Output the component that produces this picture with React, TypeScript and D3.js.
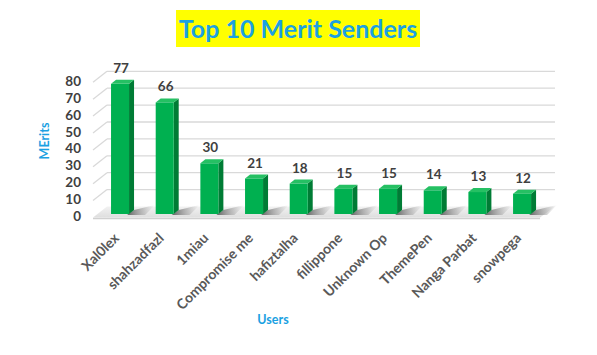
import React from "react";
import * as d3 from "d3";

const users = ["Xal0lex", "shahzadfazl", "1miau", "Compromise me", "hafiztalha", "fillippone", "Unknown Op", "ThemePen", "Nanga Parbat", "snowpega"];
const merits = [77, 66, 30, 21, 18, 15, 15, 14, 13, 12];
const yTicks = [0, 10, 20, 30, 40, 50, 60, 70, 80];

const W = 597, H = 355;
const DX = 14, DY = -11; // wall depth
const BDX = 5, BDY = -4; // bar depth
const FONT = "Lato, 'Open Sans', sans-serif";

export default function App() {
  const x = d3.scaleBand<string>().domain(users).range([97.7, 544.4]).paddingInner(0.597).paddingOuter(0.2985);
  const y = d3.scaleLinear().domain([0, 80]).range([216, 80.8]);
  const base = 214;
  const frontX = 93;
  const backRight = 555;

  return (
    <svg width={W} height={H} style={{ display: "block", position: "absolute", left: 0, top: 0, background: "#fff" }}>
      <defs>
        <linearGradient id="shadow" x1="0" y1="0" x2="1" y2="0">
          <stop offset="0" stopColor="#5a5a5a" stopOpacity="0.95" />
          <stop offset="0.6" stopColor="#9a9a9a" stopOpacity="0.5" />
          <stop offset="1" stopColor="#bbb" stopOpacity="0" />
        </linearGradient>
        <linearGradient id="floor" x1="0" y1="0" x2="0" y2="1">
          <stop offset="0" stopColor="#f2f2f2" />
          <stop offset="1" stopColor="#dedede" />
        </linearGradient>
      </defs>
      <rect width={W} height={H} fill="#fff" />
      {/* Title */}
      <rect x={176} y={10} width={244} height={37} fill="#ffff00" />
      <text x={298} y={38} textAnchor="middle" fontFamily={FONT} fontWeight="bold" fontSize={25} fill="#1ba1e2">Top 10 Merit Senders</text>

      {/* gridlines */}
      {yTicks.map((t) => {
        const yf = y(t) + 1.5;
        return (
          <g key={t}>
            {t > 0 && <line x1={frontX} y1={yf} x2={frontX + DX} y2={yf + DY} stroke="#d9d9d9" strokeWidth={1.3} />}
            {t > 0 && <line x1={frontX + DX} y1={yf + DY} x2={backRight} y2={yf + DY} stroke="#d9d9d9" strokeWidth={1.3} />}
            <text x={81} y={y(t) + 5} textAnchor="end" fontFamily={FONT} fontWeight="bold" fontSize={13.5} fill="#404040">{t}</text>
          </g>
        );
      })}

      {/* floor */}
      <polygon
        points={`${frontX},${y(0) + 1.5} ${540},${y(0) + 1.5} ${backRight},${y(0) + 1.5 + DY} ${frontX + DX},${y(0) + 1.5 + DY}`}
        fill="url(#floor)"
      />
      <line x1={frontX} y1={y(0) + 2.5} x2={540} y2={y(0) + 2.5} stroke="#d0d0d0" strokeWidth={1.5} />
      {/* shadows */}
      {users.map((u) => {
        const x0 = x(u)!;
        const bw = x.bandwidth();
        return (
          <polygon key={u}
            points={`${x0 + bw - 2},${base + 1} ${x0 + bw + 16},${base + 1} ${x0 + bw + 26},${base - 9} ${x0 + bw + BDX},${base + BDY}`}
            fill="url(#shadow)" />
        );
      })}

      {/* bars */}
      {merits.map((v, i) => {
        const u = users[i];
        const x0 = x(u)!;
        const bw = x.bandwidth();
        const top = base - (y(0) - y(v));
        return (
          <g key={u}>
            <polygon points={`${x0 + bw},${top} ${x0 + bw + BDX},${top + BDY} ${x0 + bw + BDX},${base + BDY} ${x0 + bw},${base}`} fill="#007c35" />
            <polygon points={`${x0},${top} ${x0 + BDX},${top + BDY} ${x0 + bw + BDX},${top + BDY} ${x0 + bw},${top}`} fill="#25c063" />
            <rect x={x0} y={top} width={bw} height={base - top} fill="#00b050" />
            <text x={x0 + bw / 2 + 1} y={top - 11} textAnchor="middle" fontFamily={FONT} fontWeight="bold" fontSize={13.5} fill="#404040">{v}</text>
          </g>
        );
      })}

      {/* category labels */}
      {users.map((u) => {
        const cx = x(u)! + x.bandwidth() / 2;
        return (
          <text key={u} transform={`translate(${cx},${239}) rotate(-45)`} textAnchor="end" fontFamily={FONT} fontWeight="bold" fontSize={14} fill="#595959">{u}</text>
        );
      })}

      {/* axis titles */}
      <text transform={`translate(49,141) rotate(-90)`} textAnchor="middle" fontFamily={FONT} fontWeight="bold" fontSize={12.5} fill="#1ba1e2">MErits</text>
      <text x={273} y={324} textAnchor="middle" fontFamily={FONT} fontWeight="bold" fontSize={12.5} fill="#1ba1e2">Users</text>
    </svg>
  );
}
